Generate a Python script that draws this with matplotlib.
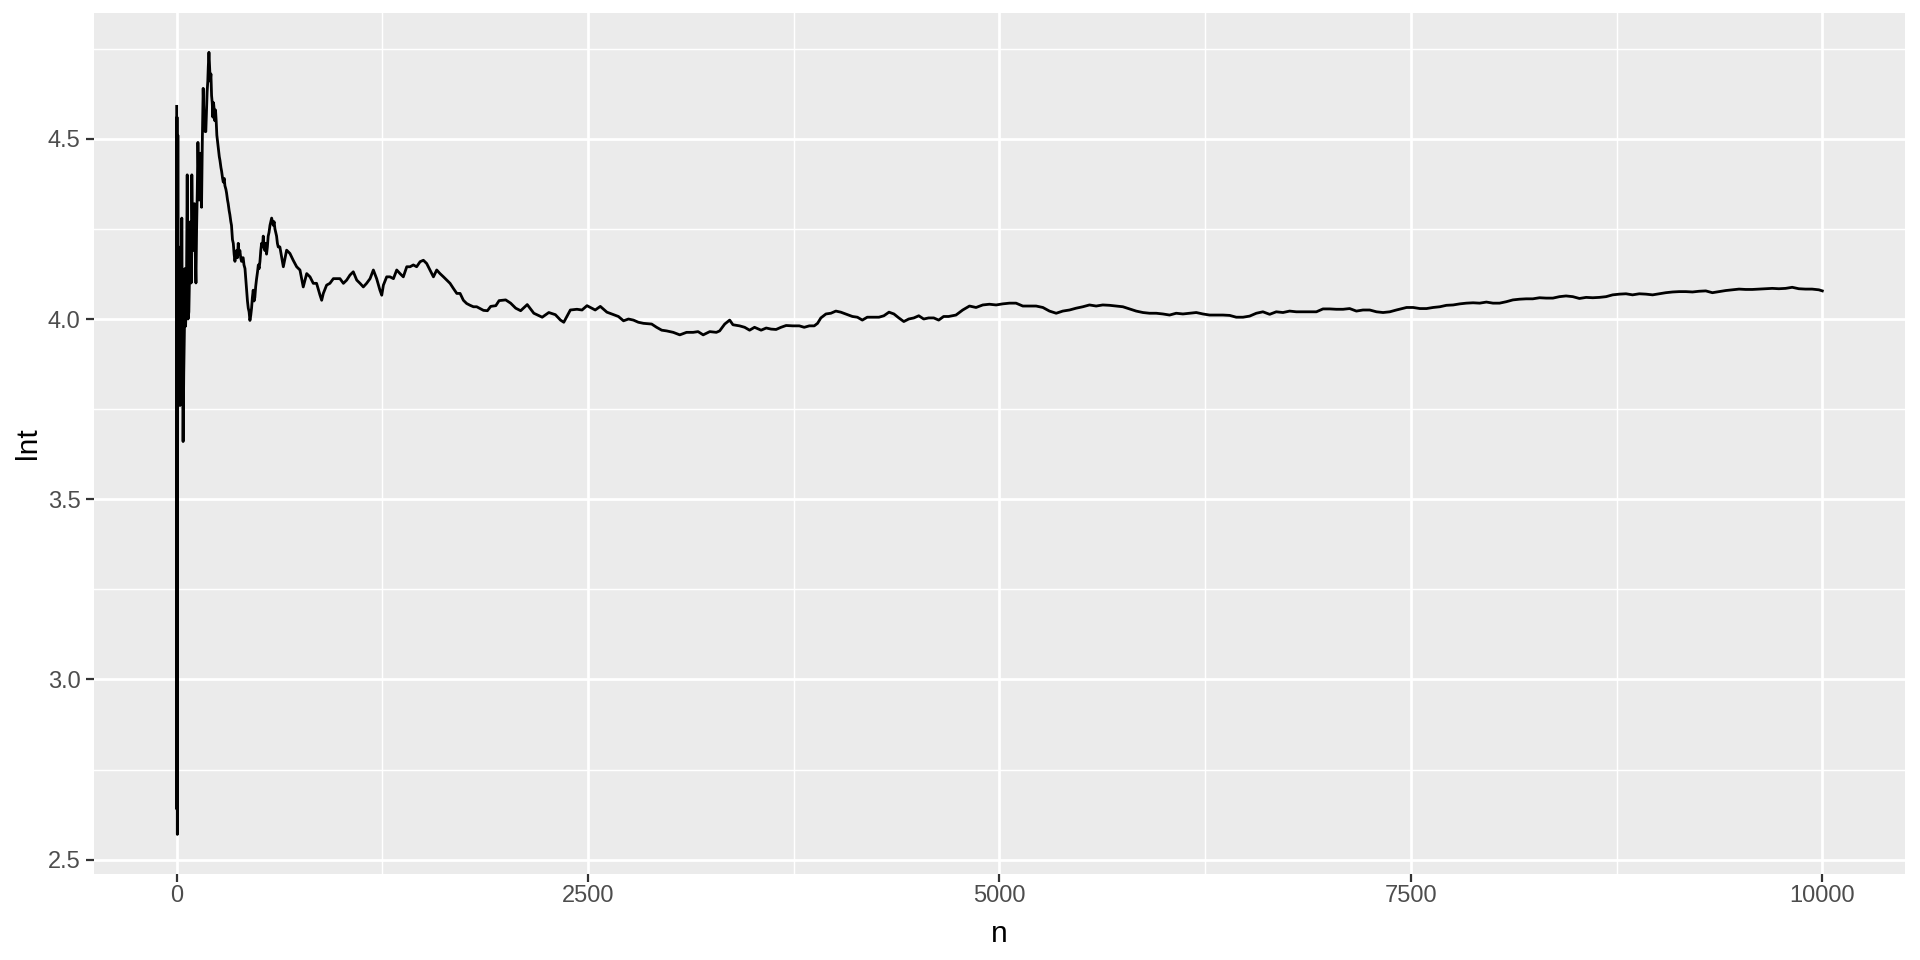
import numpy as np
import matplotlib
matplotlib.use("Agg")
import matplotlib.pyplot as plt
from matplotlib.ticker import MultipleLocator

plt.rcParams['font.family'] = ['Liberation Sans', 'DejaVu Sans']

# ---- data (running estimate lnt vs n) ----
n_early = [1, 2, 3, 4, 5, 6, 8, 10, 12, 15, 18, 21, 25, 28, 32, 36, 40, 44, 48, 51,
           55, 60, 65, 70, 75, 80, 85, 89, 93, 97, 101, 105, 109, 114, 118, 122, 126,
           130, 134, 138, 142, 146, 150, 152, 157, 162, 166, 170, 174, 178, 182, 186,
           190, 193, 197, 201, 205, 209, 213, 217, 221, 225, 229, 233, 237, 241, 245,
           250, 255, 260, 264, 270, 274, 280, 284, 290, 294, 300, 304, 310, 314, 320,
           324, 330, 334, 340, 345, 350, 355, 360, 365, 370, 375, 380, 385, 390, 395,
           400, 405, 410, 416, 421, 426, 431, 436, 441, 446, 451, 456, 461, 466, 471,
           476, 481, 486, 492, 497, 502, 507, 512, 517, 522, 527, 532, 537, 542, 547,
           552, 557, 562, 568, 573, 578, 583, 588, 593, 598, 603, 608, 613, 618]
lnt_early = [4.59, 2.64, 4.56, 3.30, 2.57, 3.22, 4.51, 3.80, 4.20, 3.90, 4.10, 3.76,
             4.00, 3.84, 4.28, 3.90, 3.66, 3.85, 3.97, 4.14, 3.98, 4.05, 4.40, 4.00,
             4.02, 4.15, 4.27, 4.10, 4.40, 4.25, 4.19, 4.30, 4.32, 4.18, 4.10, 4.25,
             4.35, 4.49, 4.40, 4.33, 4.42, 4.46, 4.38, 4.31, 4.50, 4.64, 4.57, 4.56,
             4.52, 4.52, 4.58, 4.63, 4.66, 4.70, 4.74, 4.70, 4.66, 4.68, 4.62, 4.60,
             4.56, 4.60, 4.58, 4.55, 4.58, 4.55, 4.51, 4.49, 4.47, 4.45, 4.44, 4.42,
             4.41, 4.39, 4.38, 4.39, 4.37, 4.36, 4.35, 4.33, 4.32, 4.30, 4.29, 4.27,
             4.26, 4.22, 4.21, 4.18, 4.16, 4.18, 4.19, 4.17, 4.21, 4.18, 4.19, 4.17,
             4.16, 4.17, 4.17, 4.15, 4.14, 4.11, 4.08, 4.05, 4.03, 4.02, 3.996, 4.01,
             4.03, 4.06, 4.08, 4.05, 4.06, 4.09, 4.11, 4.13, 4.15, 4.14, 4.16, 4.19,
             4.21, 4.20, 4.23, 4.20, 4.19, 4.21, 4.18, 4.20, 4.23, 4.24, 4.26, 4.27,
             4.28, 4.27, 4.26, 4.27, 4.25, 4.24, 4.23, 4.21, 4.20]

n_mid1 = [628, 649, 669, 689, 709, 730, 750, 770, 791, 811, 831, 851, 872, 882, 892,
          912, 932, 953, 973, 993, 1014, 1034, 1054, 1074, 1095, 1115, 1135, 1155,
          1176, 1196, 1216, 1236, 1247, 1257, 1277, 1297, 1318, 1338, 1358, 1378,
          1399, 1419, 1439, 1459, 1480, 1500, 1520, 1540, 1561, 1581, 1601, 1622,
          1642, 1662, 1682, 1703, 1723, 1743, 1763, 1784, 1804, 1824, 1865]
lnt_mid1 = [4.200, 4.145, 4.191, 4.182, 4.163, 4.145, 4.136, 4.089, 4.126, 4.117,
            4.099, 4.099, 4.066, 4.052, 4.071, 4.094, 4.099, 4.112, 4.112, 4.112,
            4.099, 4.108, 4.122, 4.131, 4.108, 4.099, 4.089, 4.099, 4.112, 4.136,
            4.112, 4.080, 4.066, 4.094, 4.117, 4.117, 4.112, 4.136, 4.126, 4.117,
            4.145, 4.145, 4.150, 4.145, 4.159, 4.163, 4.154, 4.136, 4.117, 4.136,
            4.126, 4.117, 4.108, 4.099, 4.085, 4.071, 4.071, 4.052, 4.043, 4.038,
            4.034, 4.034, 4.024]

n_mid2 = [1889, 1909, 1940, 1960, 2000, 2030, 2061, 2091, 2131, 2171, 2222, 2262,
          2302, 2333, 2353, 2393, 2433, 2464, 2494, 2544, 2575, 2615, 2655, 2685,
          2716, 2746, 2776, 2806, 2837, 2887, 2917, 2948, 2978, 3018, 3058, 3099,
          3139, 3169, 3200, 3240, 3280, 3300, 3331, 3361, 3381, 3421, 3452, 3482,
          3512, 3552, 3583, 3613, 3643, 3673, 3704, 3744, 3784, 3814, 3845, 3875,
          3895, 3915, 3946, 3976, 4006, 4036, 4066, 4107, 4137, 4167, 4197, 4228,
          4268, 4298, 4329, 4359, 4389, 4419, 4449, 4480, 4510, 4540, 4570, 4601,
          4631, 4661, 4691]
lnt_mid2 = [4.023, 4.035, 4.037, 4.051, 4.053, 4.044, 4.030, 4.023, 4.040, 4.016,
            4.005, 4.018, 4.012, 3.997, 3.991, 4.025, 4.027, 4.025, 4.037, 4.025,
            4.035, 4.019, 4.012, 4.007, 3.995, 4.000, 3.997, 3.991, 3.988, 3.986,
            3.977, 3.969, 3.967, 3.963, 3.956, 3.963, 3.963, 3.965, 3.956, 3.965,
            3.963, 3.967, 3.986, 3.997, 3.984, 3.981, 3.977, 3.969, 3.977, 3.969,
            3.975, 3.972, 3.971, 3.977, 3.982, 3.981, 3.981, 3.977, 3.981, 3.981,
            3.988, 4.003, 4.014, 4.016, 4.022, 4.019, 4.014, 4.007, 4.005, 3.997,
            4.005, 4.005, 4.005, 4.009, 4.019, 4.014, 4.003, 3.993, 4.000, 4.003,
            4.009, 4.000, 4.003, 4.003, 3.997, 4.007, 4.007]

n_late1 = [4736, 4777, 4818, 4858, 4899, 4939, 4980, 5020, 5061, 5101, 5142, 5182,
           5223, 5264, 5304, 5345, 5385, 5426, 5466, 5507, 5547, 5588, 5628, 5669,
           5709, 5750, 5791, 5831, 5872, 5912, 5953, 5993, 6034, 6074, 6115, 6155,
           6196, 6236, 6277, 6318, 6358, 6399, 6439, 6480, 6520, 6561, 6601, 6642,
           6682, 6723, 6763, 6804, 6845, 6885, 6926, 6966, 7007, 7047, 7088, 7128,
           7169, 7209, 7250, 7291, 7331, 7372, 7412]
lnt_late1 = [4.011, 4.025, 4.036, 4.032, 4.039, 4.041, 4.039, 4.042, 4.044, 4.044,
             4.036, 4.036, 4.036, 4.032, 4.022, 4.016, 4.022, 4.025, 4.030, 4.034,
             4.039, 4.036, 4.039, 4.038, 4.036, 4.034, 4.028, 4.022, 4.018, 4.016,
             4.016, 4.014, 4.011, 4.016, 4.014, 4.016, 4.018, 4.014, 4.011, 4.011,
             4.011, 4.010, 4.005, 4.005, 4.008, 4.016, 4.020, 4.013, 4.020, 4.018,
             4.022, 4.020, 4.020, 4.020, 4.020, 4.028, 4.028, 4.027, 4.027, 4.029,
             4.022, 4.025, 4.025, 4.020, 4.018, 4.020, 4.025]

n_late2 = [7474, 7514, 7555, 7595, 7635, 7676, 7716, 7757, 7797, 7837, 7878, 7918,
           7959, 7999, 8039, 8080, 8120, 8161, 8201, 8241, 8282, 8322, 8363, 8403,
           8443, 8484, 8524, 8565, 8605, 8645, 8686, 8726, 8767, 8807, 8847, 8888,
           8928, 8969, 9009, 9049, 9090, 9130, 9171, 9211, 9251, 9292, 9332, 9373,
           9413, 9453, 9494, 9534, 9575, 9615, 9655, 9696, 9736, 9777, 9817, 9857,
           9898, 9938, 9979, 10000]
lnt_late2 = [4.032, 4.032, 4.029, 4.029, 4.032, 4.034, 4.038, 4.039, 4.042, 4.044,
             4.045, 4.044, 4.047, 4.044, 4.044, 4.048, 4.053, 4.055, 4.056, 4.056,
             4.059, 4.058, 4.058, 4.062, 4.064, 4.062, 4.057, 4.060, 4.059, 4.060,
             4.062, 4.067, 4.069, 4.070, 4.067, 4.070, 4.069, 4.067, 4.070, 4.073,
             4.075, 4.076, 4.076, 4.075, 4.077, 4.078, 4.073, 4.076, 4.079, 4.081,
             4.083, 4.082, 4.082, 4.083, 4.084, 4.085, 4.084, 4.085, 4.088, 4.084,
             4.083, 4.083, 4.081, 4.078]

x_ticks = [0, 2500, 5000, 7500, 10000]
y_ticks = [2.5, 3.0, 3.5, 4.0, 4.5]
x_title = "n"
y_title = "lnt"

n = np.concatenate([n_early, n_mid1, n_mid2, n_late1, n_late2])
lnt = np.concatenate([lnt_early, lnt_mid1, lnt_mid2, lnt_late1, lnt_late2])

# ---- figure ----
W, H = 1920, 960
fig = plt.figure(figsize=(W / 100, H / 100), dpi=100)
left, right, top, bottom = 94.4, 1904.6, 13.2, 873.5
ax = fig.add_axes([left / W, (H - bottom) / H, (right - left) / W, (bottom - top) / H])
ax.set_facecolor('#EBEBEB')

ax.plot(n, lnt, color='black', linewidth=2.0, solid_joinstyle='round', zorder=3)

# ggplot-like 5% expansion
xr = n.max() - n.min()
yr = lnt.max() - lnt.min()
ax.set_xlim(n.min() - 0.05 * xr, n.max() + 0.05 * xr)
ax.set_ylim(lnt.min() - 0.05 * yr, lnt.max() + 0.05 * yr)

ax.set_xticks(x_ticks)
ax.set_xticklabels([str(t) for t in x_ticks])
ax.set_yticks(y_ticks)
ax.set_yticklabels([f"{t:.1f}" for t in y_ticks])
ax.xaxis.set_minor_locator(MultipleLocator(1250))
ax.yaxis.set_minor_locator(MultipleLocator(0.25))

ax.grid(which='major', color='white', linewidth=2.0, zorder=1)
ax.grid(which='minor', color='white', linewidth=1.05, zorder=1)
ax.set_axisbelow(True)

for s in ax.spines.values():
    s.set_visible(False)

ax.tick_params(which='major', direction='out', length=5.5, width=1.6, color='#333333',
               labelcolor='#4D4D4D', labelsize=17)
ax.tick_params(axis='x', pad=3.0)
ax.tick_params(axis='y', pad=4.5)
ax.tick_params(which='minor', length=0)
ax.tick_params(axis='x', top=False)
ax.tick_params(axis='y', right=False)

ax.set_xlabel(x_title, fontsize=21.5, color='black', labelpad=9)
ax.set_ylabel(y_title, fontsize=21.5, color='black', labelpad=4)

fig.savefig('out.png', dpi=100, facecolor='white')
